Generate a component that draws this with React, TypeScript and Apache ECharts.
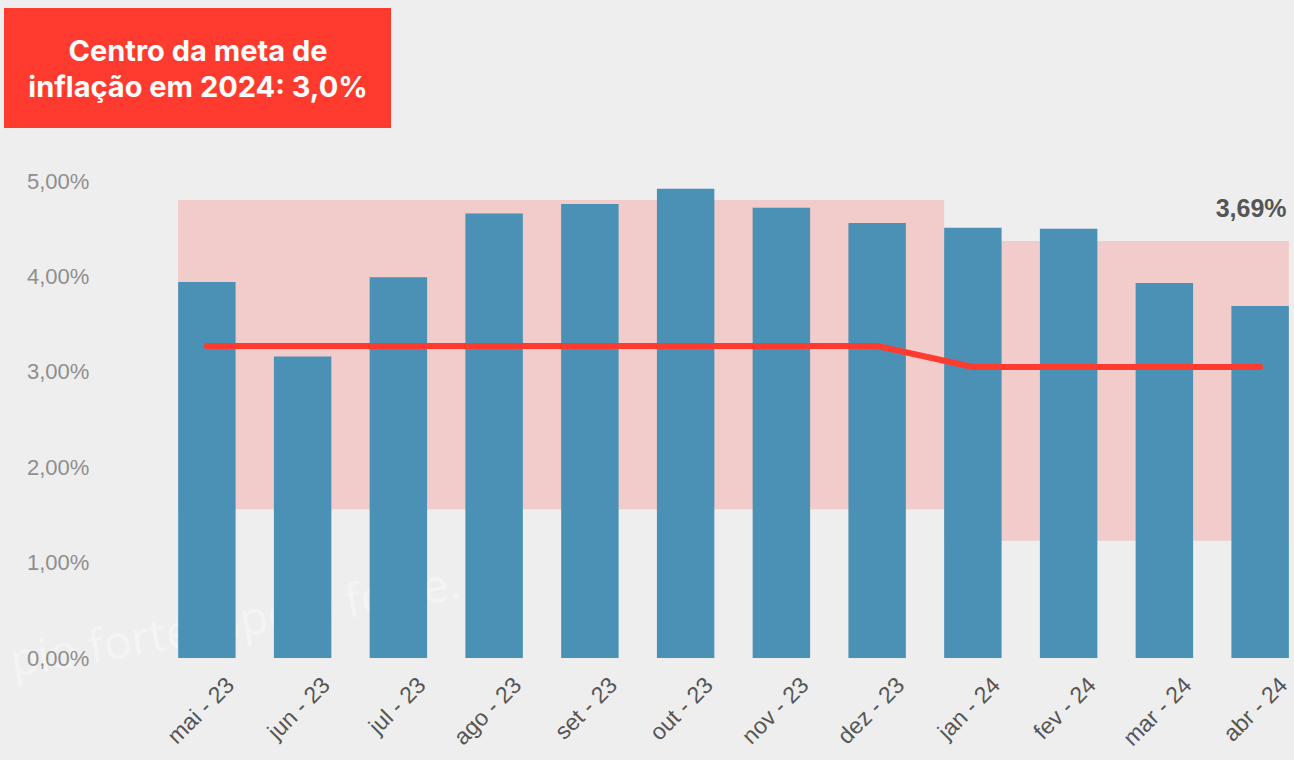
import React, { useEffect, useRef } from "react";
import * as echarts from "echarts";

const categories = ["mai - 23", "jun - 23", "jul - 23", "ago - 23", "set - 23", "out - 23", "nov - 23", "dez - 23", "jan - 24", "fev - 24", "mar - 24", "abr - 24"];
const ipca = [3.94, 3.16, 3.99, 4.66, 4.76, 4.92, 4.72, 4.56, 4.51, 4.50, 3.93, 3.69];
const metaCentro = [3.27, 3.27, 3.27, 3.27, 3.27, 3.27, 3.27, 3.27, 3.05, 3.05, 3.05, 3.05];
// tolerance bands: [first category index, last category index, lower bound, upper bound]
const bandStart = [0, 8];
const bandEnd = [8, 11];
const bandLow = [1.56, 1.23];
const bandHigh = [4.80, 4.37];
const yTicks = [0, 1, 2, 3, 4, 5];
const titleLines = ["Centro da meta de", "inflação em 2024: 3,0%"];
const watermarkText = "pio forte, apoio forte.";

const fmtPct = (v: number) => v.toFixed(2).replace(".", ",") + "%";

export default function App() {
  const ref = useRef<HTMLDivElement>(null);
  useEffect(() => {
    document.body.style.margin = "0";
    document.body.style.background = "#eeeeee";
    const chart = echarts.init(ref.current!, null, { renderer: "svg" });
    const BAR_RATIO = 0.6;
    const bandData = bandStart.map((s, i) => [s, bandEnd[i], bandLow[i], bandHigh[i], i === bandStart.length - 1 ? 1 : 0]);
    const lastIdx = ipca.length - 1;
    chart.setOption({
      animation: false,
      backgroundColor: "#eeeeee",
      grid: [
        { left: 159, width: 1149, top: 181, bottom: 102, outerBoundsMode: "none", containLabel: false },
        { left: 182, width: 1149, top: 181, bottom: 102, outerBoundsMode: "none", containLabel: false },
      ],
      xAxis: [
        {
          type: "category",
          data: categories,
          gridIndex: 0,
          axisLine: { show: false },
          axisTick: { show: false },
          axisLabel: { show: false },
        },
        {
          type: "category",
          data: categories,
          gridIndex: 1,
          z: 6,
          axisLine: { show: false },
          axisTick: { show: false },
          axisLabel: {
            rotate: 45,
            margin: 23,
            color: "#555555",
            fontSize: 23,
            fontFamily: "Liberation Sans, Arial, sans-serif",
            interval: 0,
          },
        },
      ],
      yAxis: [
        {
          type: "value",
          gridIndex: 0,
          z: 6,
          min: 0,
          max: 5,
          interval: 1,
          splitLine: { show: false },
          axisLine: { show: false },
          axisTick: { show: false },
          axisLabel: {
            align: "left",
            margin: 132,
            color: "#8e8e8e",
            fontSize: 22,
            fontFamily: "Liberation Sans, Arial, sans-serif",
            formatter: (v: number) => (yTicks.includes(v) ? fmtPct(v) : ""),
          },
        },
        {
          type: "value",
          gridIndex: 1,
          min: 0,
          max: 5,
          show: false,
        },
      ],
      series: [
        {
          type: "custom",
          xAxisIndex: 0,
          yAxisIndex: 0,
          z: 1,
          silent: true,
          encode: { x: [0, 1], y: [2, 3] },
          data: bandData,
          renderItem: (params: any, api: any) => {
            const s = api.value(0);
            const e = api.value(1);
            const lo = api.value(2);
            const hi = api.value(3);
            const isLast = api.value(4) === 1;
            const unit = api.size([1, 0])[0];
            const bw = unit * BAR_RATIO;
            const pS = api.coord([s, hi]);
            const pE = api.coord([e, lo]);
            const x0 = pS[0] - bw / 2;
            const x1 = isLast ? pE[0] + bw / 2 : pE[0] - bw / 2;
            return {
              type: "rect",
              shape: { x: x0, y: pS[1], width: x1 - x0, height: pE[1] - pS[1] },
              style: { fill: "#f2cbcb" },
            };
          },
        },
        {
          type: "bar",
          xAxisIndex: 0,
          yAxisIndex: 0,
          z: 3,
          barWidth: "60%",
          itemStyle: { color: "#4a91b5" },
          data: ipca.map((v, i) =>
            i === lastIdx
              ? {
                  value: v,
                  label: {
                    show: true,
                    position: "top",
                    offset: [-9, -80],
                    formatter: () => fmtPct(v),
                    color: "#555555",
                    fontSize: 25,
                    fontWeight: "bold",
                    fontFamily: "Liberation Sans, Arial, sans-serif",
                  },
                }
              : v
          ),
        },
        {
          type: "line",
          xAxisIndex: 0,
          yAxisIndex: 0,
          z: 4,
          symbol: "none",
          lineStyle: { color: "#ff3b30", width: 6, cap: "round" },
          data: metaCentro,
        },
      ],
      graphic: [
        {
          type: "text",
          z: 0,
          x: 14,
          y: 682,
          rotation: (10 * Math.PI) / 180,
          silent: true,
          style: {
            text: watermarkText,
            fill: "rgba(255,255,255,0.4)",
            font: "46px 'Open Sans', sans-serif",
            verticalAlign: "bottom",
          },
        },
        {
          type: "rect",
          left: 4,
          top: 8,
          z: 10,
          shape: { width: 387, height: 120 },
          style: { fill: "#ff3b30" },
        },
        {
          type: "text",
          x: 198,
          y: 68,
          z: 11,
          style: {
            text: titleLines.join("\n"),
            fill: "#ffffff",
            font: "bold 29px Inter, 'Noto Sans', sans-serif",
            lineHeight: 36,
            align: "center",
            verticalAlign: "middle",
          },
        },
      ],
    });
    return () => chart.dispose();
  }, []);
  return <div ref={ref} style={{ width: 1294, height: 760 }} />;
}
